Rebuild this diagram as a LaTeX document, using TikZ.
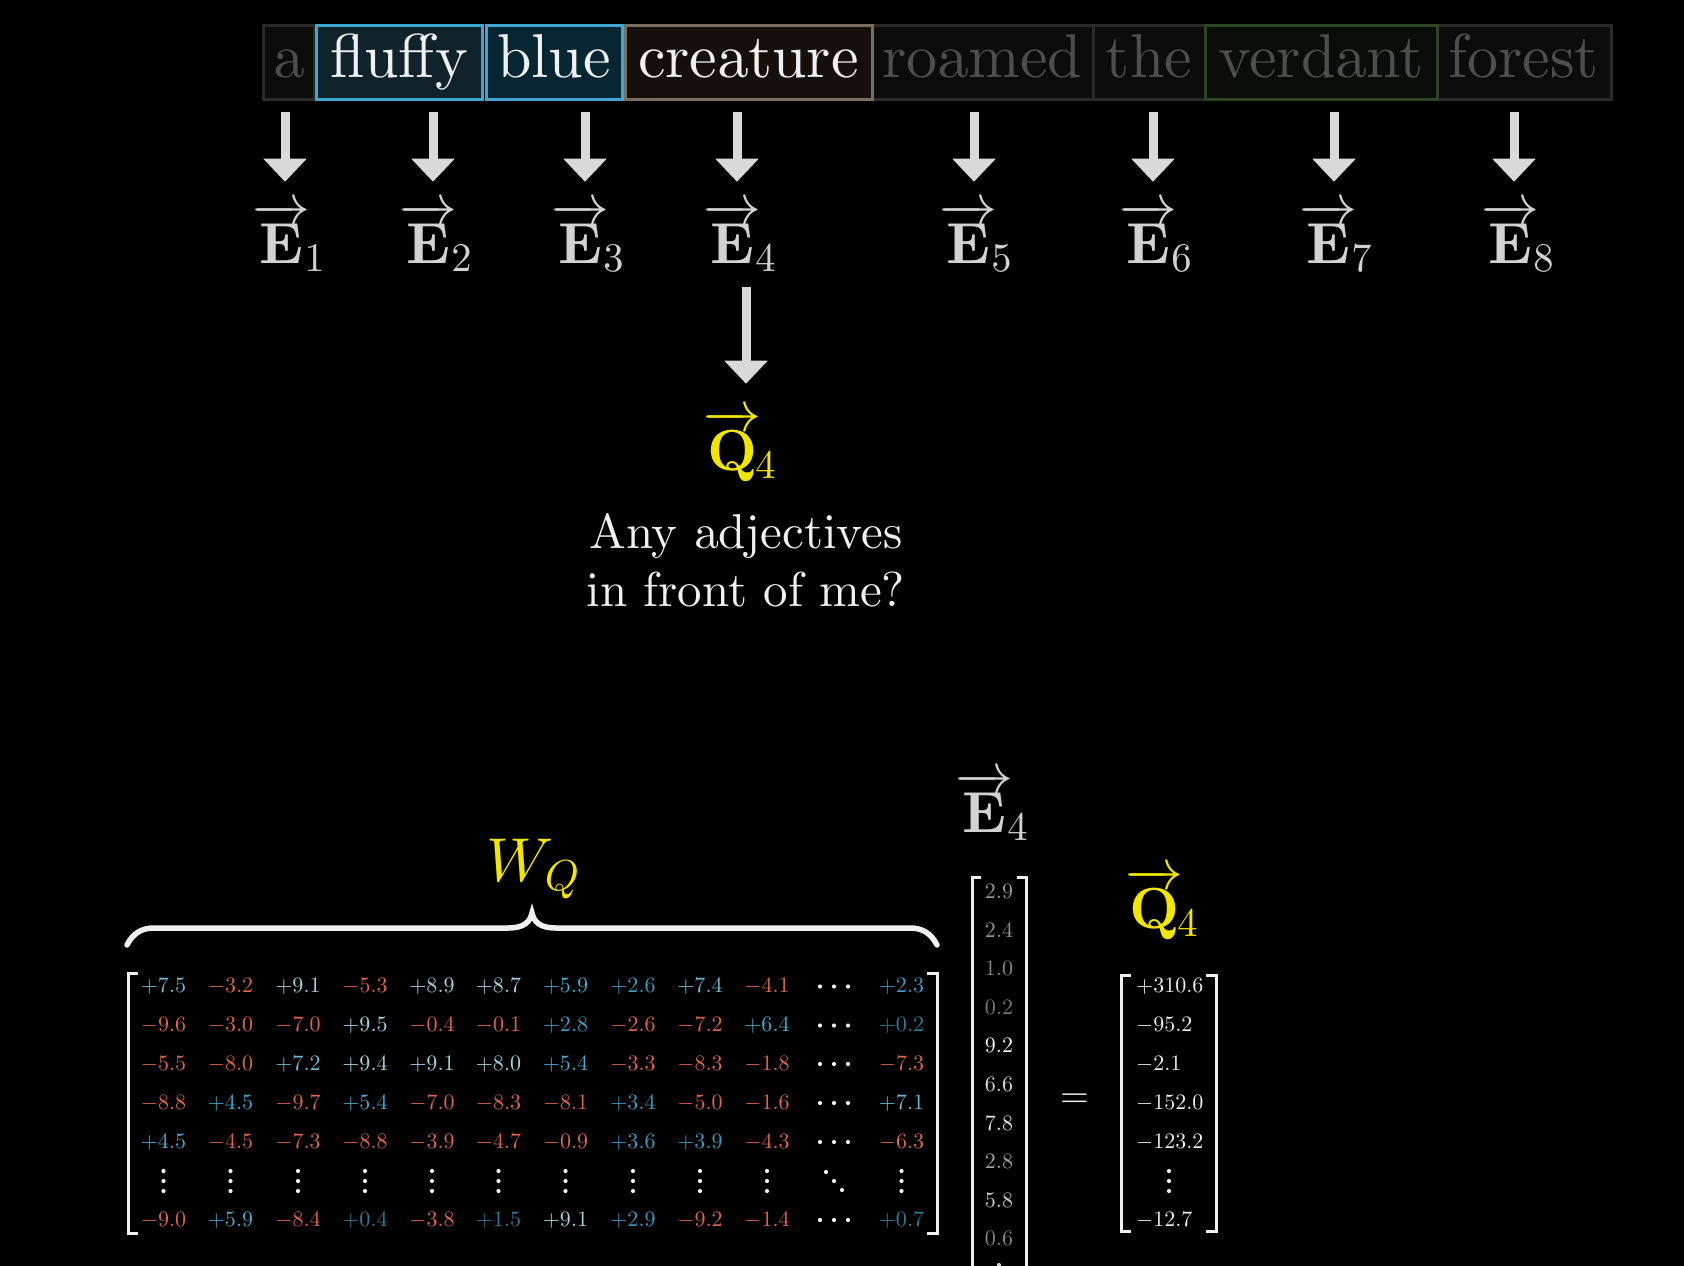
\documentclass[tikz,border=0pt]{standalone}
\DeclareFontShape{OT1}{cmr}{m}{n}{<->cmr10}{}
\DeclareFontShape{OT1}{cmr}{bx}{n}{<->cmbx10}{}
\DeclareFontShape{OML}{cmm}{m}{it}{<->cmmi10}{}
\DeclareFontShape{OMS}{cmsy}{m}{n}{<->cmsy10}{}
\DeclareFontShape{OMX}{cmex}{m}{n}{<->cmex10}{}
\usetikzlibrary{arrows.meta}
\definecolor{arrowgray}{HTML}{D9D9D9}
\definecolor{egray}{HTML}{D2D2D2}
\definecolor{qyellow}{HTML}{F2E600}
\definecolor{wtext}{HTML}{F0F0F0}
\definecolor{dimtext}{HTML}{4E4E4E}
\definecolor{dimborder}{HTML}{2A2A2A}
\definecolor{dimfill}{HTML}{0C0C0C}
\definecolor{bluebor}{HTML}{3FA6CF}
\definecolor{fluffyfill}{HTML}{10222A}
\definecolor{bluefill}{HTML}{072634}
\definecolor{creabor}{HTML}{7D6E60}
\definecolor{creafill}{HTML}{16100C}
\definecolor{verdbor}{HTML}{2E4524}
\definecolor{verdfill}{HTML}{0A0D08}
\definecolor{pA}{HTML}{2C7E98}
\definecolor{pB}{HTML}{3B9CC4}
\definecolor{pC}{HTML}{4AA8CE}
\definecolor{pD}{HTML}{70BAD6}
\definecolor{pE}{HTML}{A6D4E2}
\definecolor{ng}{HTML}{DF654D}
\newcommand\fsz[1]{\fontencoding{OT1}\fontfamily{cmr}\fontsize{#1}{#1}\selectfont}
\newcommand\vecsub[2]{\overrightarrow{\mathbf{#1}}\mkern-2mu{}_{#2}}
\begin{document}
\begin{tikzpicture}[x=1pt,y=-1pt,
  wordbox/.style={draw, line width=3pt, minimum height=74pt, inner sep=0pt, text height=45pt, text depth=14pt, font=\fsz{62}},
  bigarrow/.style={draw=arrowgray, line width=9pt, -{Triangle[width=42pt,length=23pt]}},
  elabel/.style={inner sep=0pt, text=egray, font=\fsz{58}, anchor=base},
  qlabel/.style={inner sep=0pt, text=qyellow, font=\fsz{58}, anchor=base},
  qtext/.style={inner sep=0pt, text=wtext, font=\fsz{49}, anchor=base},
  cell/.style={inner sep=0pt, font=\fsz{22}, anchor=center},
  rcell/.style={inner sep=0pt, font=\fsz{22}, anchor=west, text=wtext},
  brk/.style={draw=wtext, line width=3pt},
  brace/.style={draw=wtext, line width=5.5pt, line cap=round},
]
\fill[black] (0,0) rectangle (1684,1266);
\useasboundingbox (0,0) rectangle (1684,1266);
\clip (0,0) rectangle (1684,1266);

% ---------- word bar ----------
\node[wordbox, draw=dimborder, fill=dimfill, text=dimtext, minimum width=51pt] (wa) at (288.5,62) {a};
\node[wordbox, draw=dimborder, fill=dimfill, text=dimtext, minimum width=221pt] (wroamed) at (982.5,62) {roamed};
\node[wordbox, draw=dimborder, fill=dimfill, text=dimtext, minimum width=112pt] (wthe) at (1149,62) {the};
\node[wordbox, draw=dimborder, fill=dimfill, text=dimtext, minimum width=174pt] (wforest) at (1524,62) {forest};
\node[wordbox, draw=verdbor, fill=verdfill, text=dimtext, minimum width=232pt] (wverdant) at (1321,62) {verdant};
\node[wordbox, draw=creabor, fill=creafill, text=wtext, minimum width=247pt] (wcreature) at (748.5,62) {creature};
\node[wordbox, draw=bluebor, fill=fluffyfill, text=wtext, minimum width=166pt] (wfluffy) at (399,62) {fluffy};
\node[wordbox, draw=bluebor, fill=bluefill, text=wtext, minimum width=136pt] (wblue) at (554,62) {blue};

% ---------- embeddings ----------
\node[elabel] (E1) at (289,263) {$\vecsub{E}{1}$};
\node[elabel] (E2) at (436,263) {$\vecsub{E}{2}$};
\node[elabel] (E3) at (588,263) {$\vecsub{E}{3}$};
\node[elabel] (E4) at (740,263) {$\vecsub{E}{4}$};
\node[elabel] (E5) at (976,263) {$\vecsub{E}{5}$};
\node[elabel] (E6) at (1156,263) {$\vecsub{E}{6}$};
\node[elabel] (E7) at (1336,263) {$\vecsub{E}{7}$};
\node[elabel] (E8) at (1518,263) {$\vecsub{E}{8}$};

\foreach \i/\x in {1/285,2/433,3/585,4/737,5/974,6/1153,7/1334,8/1514}
  \coordinate (t\i) at (\x,112);
\foreach \i in {1,...,8}
  \draw[bigarrow, shorten >=21pt] (t\i) -- (t\i |- E\i.north);

% ---------- query ----------
\node[qlabel] (Q4) at (740,470) {$\vecsub{Q}{4}$};
\coordinate (qx) at (746,0);
\draw[bigarrow, shorten <=15pt, shorten >=26pt] (E4.south -| qx) -- (Q4.north -| qx);
\node[qtext] (ask1) at (746,548) {Any adjectives};
\node[qtext] (ask2) at (746,606) {in front of me?};

% ---------- W_Q ----------
\node[qlabel, font=\fsz{62}] (WQ) at (533,881) {$W_Q$};
\draw[brace] (127,945) .. controls (133,933) and (142,928) .. (154,928) -- (508,928)
  .. controls (524,928) and (530,922) .. (532,913)
  .. controls (534,922) and (540,928) .. (556,928) -- (910,928)
  .. controls (922,928) and (931,933) .. (937,945);

\draw[brk] (138,973) -- (128,973) -- (128,1233) -- (138,1233);
\draw[brk] (927,973) -- (937,973) -- (937,1233) -- (927,1233);

\foreach \j/\x in {1/163.5,2/230.5,3/298,4/365,5/432,6/498.5,7/565.5,8/633,9/700,10/767,11/834,12/901.5}
  \coordinate (c\j) at (\x,0);
\foreach \i/\y in {1/986.5,2/1025.5,3/1064,4/1103,5/1142,6/1181,7/1220}
  \coordinate (r\i) at (0,\y);

\foreach \i/\rowdata in {
  1/{1/pD/+7.5,2/ng/-3.2,3/pE/+9.1,4/ng/-5.3,5/pE/+8.9,6/pE/+8.7,7/pC/+5.9,8/pB/+2.6,9/pD/+7.4,10/ng/-4.1,12/pB/+2.3},
  2/{1/ng/-9.6,2/ng/-3.0,3/ng/-7.0,4/pE/+9.5,5/ng/-0.4,6/ng/-0.1,7/pB/+2.8,8/ng/-2.6,9/ng/-7.2,10/pC/+6.4,12/pA/+0.2},
  3/{1/ng/-5.5,2/ng/-8.0,3/pD/+7.2,4/pE/+9.4,5/pE/+9.1,6/pE/+8.0,7/pC/+5.4,8/ng/-3.3,9/ng/-8.3,10/ng/-1.8,12/ng/-7.3},
  4/{1/ng/-8.8,2/pC/+4.5,3/ng/-9.7,4/pC/+5.4,5/ng/-7.0,6/ng/-8.3,7/ng/-8.1,8/pB/+3.4,9/ng/-5.0,10/ng/-1.6,12/pD/+7.1},
  5/{1/pC/+4.5,2/ng/-4.5,3/ng/-7.3,4/ng/-8.8,5/ng/-3.9,6/ng/-4.7,7/ng/-0.9,8/pB/+3.6,9/pB/+3.9,10/ng/-4.3,12/ng/-6.3},
  7/{1/ng/-9.0,2/pC/+5.9,3/ng/-8.4,4/pA/+0.4,5/ng/-3.8,6/pA/+1.5,7/pE/+9.1,8/pB/+2.9,9/ng/-9.2,10/ng/-1.4,12/pA/+0.7}}
{
  \foreach \j/\s/\v in \rowdata {
    \node[cell, text=\s] (m\i-\j) at (c\j |- r\i) {$\v$};
  }
}
% horizontal dots
\foreach \y in {986.5,1025.5,1064,1103,1142,1220}
  \foreach \x in {820,834,848}
    \fill[wtext] (\x,\y) circle (2.1);
% vertical dots
\foreach \x in {163.5,230.5,298,365,432,498.5,565.5,633,700,767,901.5}
  \foreach \y in {1171,1181,1191}
    \fill[wtext] (\x,\y) circle (2.1);
% diagonal dots
\foreach \x/\y in {826/1172,834/1181,842/1190}
  \fill[wtext] (\x,\y) circle (2.1);

% ---------- E4 column ----------
\node[elabel] (E4b) at (992,832) {$\vecsub{E}{4}$};
\draw[brk] (981,877) -- (972,877) -- (972,1275);
\draw[brk] (1017,877) -- (1026,877) -- (1026,1275);
\foreach \v/\y/\g [count=\k] in {2.9/891/60, 2.4/930/58, 1.0/968/52, 0.2/1007/48, 9.2/1045/97, 6.6/1084/86, 7.8/1123/90, 2.8/1161/64, 5.8/1200/80, 0.6/1238/52}
  \node[cell, text=white!\g!black] (ev\k) at (999,\y) {$\v$};
\fill[egray] (999,1265) circle (2.1);

\node[inner sep=0pt, text=wtext, font=\fsz{37}] (eq) at (1074.5,1101) {$=$};

% ---------- Q4 column ----------
\node[qlabel] (Q4b) at (1162,928) {$\vecsub{Q}{4}$};
\draw[brk] (1131,975) -- (1121,975) -- (1121,1231) -- (1131,1231);
\draw[brk] (1206,975) -- (1216,975) -- (1216,1231) -- (1206,1231);
\foreach \v/\y [count=\k] in {+310.6/986.5, -95.2/1025.5, -2.1/1064, -152.0/1103, -123.2/1142, -12.7/1220}
  \node[rcell] (qv\k) at (1136,\y) {$\v$};
\foreach \y in {1171,1181,1191}
  \fill[wtext] (1169,\y) circle (2.1);
\end{tikzpicture}
\end{document}
